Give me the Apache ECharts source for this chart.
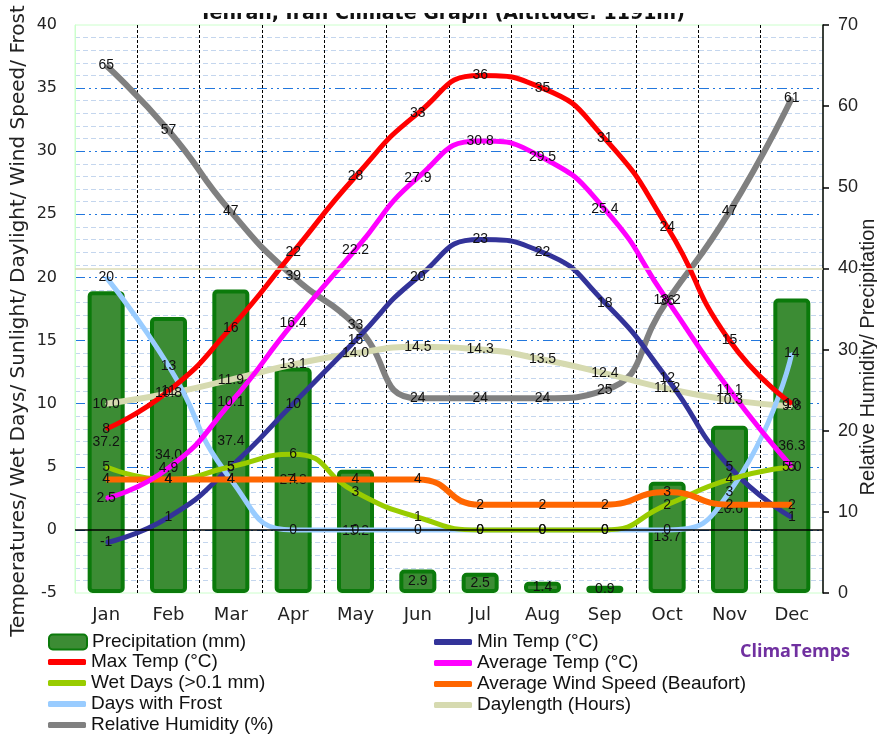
<!DOCTYPE html>
<html>
<head>
<meta charset="utf-8">
<script src="https://cdn.jsdelivr.net/npm/echarts@6/dist/echarts.min.js"></script>
<style>
  html, body { margin: 0; padding: 0; background: #fff; }
  #chart { width: 877px; height: 734px; }
</style>
</head>
<body>
<div id="chart"></div>
<script>
// chart data (Tehran climate)
var months = ['Jan', 'Feb', 'Mar', 'Apr', 'May', 'Jun', 'Jul', 'Aug', 'Sep', 'Oct', 'Nov', 'Dec'];
var precipitation = [37.2, 34.0, 37.4, 27.8, 15.2, 2.9, 2.5, 1.4, 0.9, 13.7, 20.6, 36.3];
var minTemp = [-1, 1, 5, 10, 15, 20, 23, 22, 18, 12, 5, 1];
var maxTemp = [8, 11, 16, 22, 28, 33, 36, 35, 31, 24, 15, 10];
var avgTemp = [2.5, 4.9, 10.1, 16.4, 22.2, 27.9, 30.8, 29.5, 25.4, 18.2, 11.1, 5.0];
var wetDays = [5, 4, 5, 6, 3, 1, 0, 0, 0, 2, 4, 5];
var windSpeed = [4, 4, 4, 4, 4, 4, 2, 2, 2, 3, 2, 2];
var frostDays = [20, 13, 4, 0, 0, 0, 0, 0, 0, 0, 3, 14];
var daylength = [10.0, 10.8, 11.9, 13.1, 14.0, 14.5, 14.3, 13.5, 12.4, 11.2, 10.3, 9.8];
var humidity = [65, 57, 47, 39, 33, 24, 24, 24, 25, 36, 47, 61];

var leftTicks = { min: -5, max: 40, step: 5 };
var rightTicks = { min: 0, max: 70, step: 10 };

var labelFont = 'Arial, "Liberation Sans", sans-serif';
var axisFont = '"DejaVu Sans", Verdana, sans-serif';

// one smoothed line with the value printed on each point
function lineSeries(name, data, color, width, axis, oneDecimal) {
    return {
        type: 'line',
        name: name,
        data: data,
        yAxisIndex: axis,
        smooth: 0.55,
        symbol: 'circle',
        symbolSize: 2,
        itemStyle: { color: color },
        lineStyle: { color: color, width: width },
        label: {
            show: true,
            position: 'inside',
            color: '#111',
            fontSize: 14,
            fontFamily: labelFont,
            formatter: function (p) {
                return oneDecimal ? p.value.toFixed(1) : String(p.value);
            }
        }
    };
}

var chart = echarts.init(document.getElementById('chart'));

var minSeries = lineSeries('Min Temp (°C)', minTemp, '#333399', 5, 0, false);
// zero line of the left axis
minSeries.markLine = {
    silent: true,
    symbol: 'none',
    label: { show: false },
    lineStyle: { color: '#000', width: 1.5, type: 'solid' },
    data: [{ yAxis: 0 }]
};

var humSeries = lineSeries('Relative Humidity (%)', humidity, '#808080', 6, 1, false);
humSeries.markLine = {
    silent: true,
    symbol: 'none',
    label: { show: false },
    lineStyle: { color: '#dcdcb4', width: 1.5, type: 'solid' },
    data: [{ yAxis: 40 }]
};

var legendText = { fontSize: 19, fontFamily: labelFont, color: '#111', lineHeight: 20 };

var option = {
    animation: false,
    backgroundColor: '#fff',
    grid: {
        left: 75, right: 54, top: 25, bottom: 141,
        containLabel: false,
        outerBoundsMode: 'none',
        show: true,
        borderColor: '#ccffcc',
        borderWidth: 1,
        backgroundColor: 'transparent'
    },
    legend: [
        {
            orient: 'vertical', left: 48, top: 632, height: 40, padding: 0, itemGap: 1,
            itemWidth: 38, itemHeight: 15, selectedMode: false,
            textStyle: legendText,
            data: [{ name: 'Precipitation (mm)', icon: 'roundRect' }]
        },
        {
            orient: 'vertical', left: 48, top: 652, height: 120, padding: 0, itemGap: 1,
            itemWidth: 38, itemHeight: 6, selectedMode: false,
            textStyle: legendText,
            data: [
                { name: 'Max Temp (°C)', icon: 'roundRect' },
                { name: 'Wet Days (>0.1 mm)', icon: 'roundRect' },
                { name: 'Days with Frost', icon: 'roundRect' },
                { name: 'Relative Humidity (%)', icon: 'roundRect' }
            ]
        },
        {
            orient: 'vertical', left: 434, top: 632, height: 120, padding: 0, itemGap: 1,
            itemWidth: 38, itemHeight: 6, selectedMode: false,
            textStyle: legendText,
            data: [
                { name: 'Min Temp (°C)', icon: 'roundRect' },
                { name: 'Average Temp (°C)', icon: 'roundRect' },
                { name: 'Average Wind Speed (Beaufort)', icon: 'roundRect' },
                { name: 'Daylength (Hours)', icon: 'roundRect' }
            ]
        }
    ],
    xAxis: {
        type: 'category',
        data: months,
        boundaryGap: true,
        axisLine: { show: false },
        axisTick: { show: false },
        axisLabel: {
            fontSize: 18, fontFamily: axisFont,
            color: '#222', margin: 13
        },
        splitLine: {
            show: true,
            interval: 0,
            showMinLine: false,
            showMaxLine: false,
            lineStyle: { color: '#000', width: 1, type: [3, 2] }
        }
    },
    yAxis: [
        {
            type: 'value',
            min: leftTicks.min, max: leftTicks.max, interval: leftTicks.step,
            axisLine: { show: true, lineStyle: { color: '#ccffcc' } },
            axisTick: { show: false },
            axisLabel: {
                fontSize: 16, fontFamily: axisFont,
                color: '#222', margin: 18
            },
            splitLine: {
                show: true,
                showMinLine: false,
                showMaxLine: false,
                lineStyle: { color: '#2277dd', width: 1.2, type: [10, 4, 2, 4, 2, 4] }
            },
            minorTick: { show: false, splitNumber: 5 },
            minorSplitLine: {
                show: true,
                lineStyle: { color: '#c4d6ee', width: 1, type: [5, 3] }
            }
        },
        {
            type: 'value',
            position: 'right',
            min: rightTicks.min, max: rightTicks.max, interval: rightTicks.step,
            axisLine: { show: true, lineStyle: { color: '#000', width: 1.5 } },
            axisTick: { show: true, length: 6, lineStyle: { color: '#000', width: 1.5 } },
            axisLabel: {
                fontSize: 18, fontFamily: labelFont,
                color: '#222', margin: 15
            },
            splitLine: { show: false }
        }
    ],
    series: [
        {
            type: 'bar',
            name: 'Precipitation (mm)',
            data: precipitation,
            yAxisIndex: 1,
            barWidth: 37,
            itemStyle: {
                color: '#3c8c34',
                borderColor: '#0b7a0b',
                borderWidth: 4,
                borderRadius: 3
            },
            label: {
                show: true,
                position: 'inside',
                color: '#111',
                fontSize: 14,
                fontFamily: labelFont,
                formatter: function (p) { return p.value.toFixed(1); }
            }
        },
        humSeries,
        lineSeries('Daylength (Hours)', daylength, '#d6dab0', 6, 0, true),
        minSeries,
        lineSeries('Days with Frost', frostDays, '#99ccff', 5, 0, false),
        lineSeries('Wet Days (>0.1 mm)', wetDays, '#99cc00', 5, 0, false),
        lineSeries('Average Wind Speed (Beaufort)', windSpeed, '#ff6600', 6, 0, false),
        lineSeries('Average Temp (°C)', avgTemp, '#ff00ff', 5, 0, true),
        lineSeries('Max Temp (°C)', maxTemp, '#ff0000', 5, 0, false)
    ],
    graphic: [
        {
            type: 'text', x: 442, y: 24, z: 10,
            style: {
                text: 'Tehran, Iran Climate Graph (Altitude: 1191m)',
                font: 'bold 19px "DejaVu Sans", Verdana, sans-serif',
                fill: '#111', textAlign: 'center', textVerticalAlign: 'bottom'
            }
        },
        {
            // the top of the title is hidden in the original picture
            type: 'rect', z: 20, silent: true,
            shape: { x: 150, y: 0, width: 600, height: 13 },
            style: { fill: '#fff' }
        },
        {
            type: 'text', x: 19, y: 321, rotation: Math.PI / 2, z: 10,
            style: {
                text: 'Temperatures/ Wet Days/ Sunlight/ Daylight/ Wind Speed/ Frost',
                font: '20px "DejaVu Sans", Verdana, sans-serif',
                fill: '#222', textAlign: 'center', textVerticalAlign: 'middle'
            }
        },
        {
            type: 'text', x: 868, y: 357, rotation: Math.PI / 2, z: 10,
            style: {
                text: 'Relative Humidity/ Precipitation',
                font: '20px Arial, "Liberation Sans", sans-serif',
                fill: '#222', textAlign: 'center', textVerticalAlign: 'middle'
            }
        },
        {
            type: 'text', x: 795, y: 652, z: 10,
            style: {
                text: 'ClimaTemps',
                font: 'bold 18px "Open Sans", "DejaVu Sans", sans-serif',
                fill: '#7030a0', textAlign: 'center', textVerticalAlign: 'middle'
            }
        }
    ]
};

chart.setOption(option);
</script>
</body>
</html>
